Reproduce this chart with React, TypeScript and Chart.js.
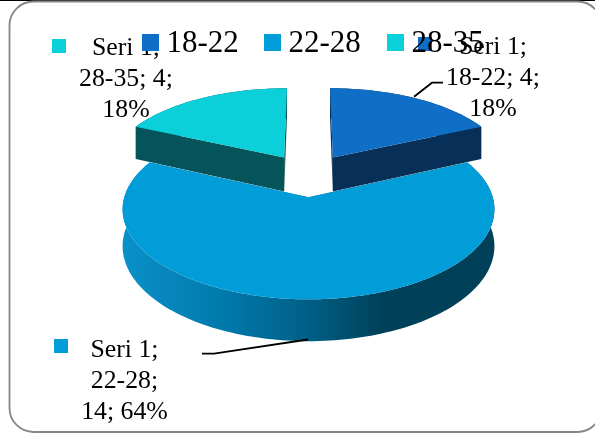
import React, { useEffect, useRef } from "react";
import { Chart, registerables } from "chart.js";

Chart.register(...registerables);

const seriesName = "Seri 1";
const categories = ["18-22", "22-28", "28-35"];
const values = [4, 14, 4];
const percents = ["18%", "64%", "18%"];
const topColors = ["#0F6FC6", "#009DD9", "#0BD0D9"];
const sideColors = ["#072F57", "#0A8FC6", "#04545A"];

const SERIF = '"Liberation Serif", "Times New Roman", serif';
const W = 595;
const H = 435;

// projection constants of the tilted pie
const KR = 82.5; // vertical px per unit radius
const PERSP = 0.13;
const EXPLODE = 0.26;
const DEPTH = 35;

type Pt = [number, number];

function project(arc: any, u: number, v: number, drop: number): Pt {
  const s = 1 / (1 + PERSP * v);
  return [arc.x + u * arc.outerRadius * s, arc.y - v * KR * s + drop * s];
}

function slicePoints(arc: any, drop: number) {
  const a0 = arc.startAngle + Math.PI / 2;
  const a1 = arc.endAngle + Math.PI / 2;
  const mid = (a0 + a1) / 2;
  const ou = EXPLODE * Math.sin(mid);
  const ov = EXPLODE * Math.cos(mid);
  const steps = Math.max(12, Math.ceil((a1 - a0) * 40));
  const rim: Pt[] = [];
  for (let i = 0; i <= steps; i++) {
    const t = a0 + ((a1 - a0) * i) / steps;
    rim.push(project(arc, ou + Math.sin(t), ov + Math.cos(t), drop));
  }
  return { apex: project(arc, ou, ov, drop), rim };
}

function fillPoly(ctx: CanvasRenderingContext2D, pts: Pt[], fill: any) {
  ctx.beginPath();
  pts.forEach((p, i) => (i ? ctx.lineTo(p[0], p[1]) : ctx.moveTo(p[0], p[1])));
  ctx.closePath();
  ctx.fillStyle = fill;
  ctx.fill();
}

function drawSlice(ctx: CanvasRenderingContext2D, arc: any, index: number) {
  const top = slicePoints(arc, 0);
  const low = slicePoints(arc, DEPTH);
  let side: any = sideColors[index];
  if (index === 1) {
    const g = ctx.createLinearGradient(125, 0, 430, 0);
    g.addColorStop(0, "#0A90C8");
    g.addColorStop(0.35, "#0077A8");
    g.addColorStop(0.6, "#005F86");
    g.addColorStop(0.85, "#004058");
    g.addColorStop(1, "#004058");
    side = g;
  }
  const n = top.rim.length - 1;
  fillPoly(ctx, [...top.rim, ...low.rim.slice().reverse()], side);
  fillPoly(ctx, [top.apex, top.rim[0], low.rim[0], low.apex], side);
  fillPoly(ctx, [top.apex, top.rim[n], low.rim[n], low.apex], side);
  fillPoly(ctx, [top.apex, ...top.rim], arc.options.backgroundColor);
}

const frame3d = {
  id: "frame3d",
  beforeDraw(chart: any) {
    const ctx = chart.ctx;
    ctx.save();
    ctx.fillStyle = "#000000";
    ctx.fillRect(0, 0, W, 1);
    ctx.beginPath();
    ctx.roundRect(9.5, 1.5, 592, 430.5, 24);
    ctx.strokeStyle = "#868686";
    ctx.lineWidth = 1.8;
    ctx.stroke();
    ctx.restore();
  },
};

const pie3d = {
  id: "pie3d",
  beforeDatasetsDraw(chart: any) {
    const ctx = chart.ctx;
    const arcs = chart.getDatasetMeta(0).data;
    ctx.save();
    [2, 0, 1].forEach((i) => drawSlice(ctx, arcs[i], i));
    ctx.restore();
    return false;
  },
};

function drawLine(ctx: CanvasRenderingContext2D, pts: Pt[]) {
  ctx.beginPath();
  pts.forEach((p, i) => (i ? ctx.lineTo(p[0], p[1]) : ctx.moveTo(p[0], p[1])));
  ctx.strokeStyle = "#000000";
  ctx.lineWidth = 1.8;
  ctx.stroke();
}

const labelLayout = [
  { cx: 493, y: 54, key: [418, 37] },
  { cx: 124.5, y: 356.5, key: [54, 339] },
  { cx: 126, y: 55, key: [52, 39] },
];
const legendBoxX = [142, 264, 387];

const annotations = {
  id: "annotations",
  afterDraw(chart: any) {
    const ctx = chart.ctx;
    ctx.save();
    ctx.textBaseline = "alphabetic";

    // data-label keys and leader lines
    labelLayout.forEach((l, i) => {
      ctx.fillStyle = topColors[i];
      ctx.fillRect(l.key[0], l.key[1], 14, 14);
    });
    drawLine(ctx, [[414, 96.7], [432, 82.7], [443, 82.7]]);
    drawLine(ctx, [[202, 353.7], [214, 353.7], [308, 339.5]]);

    // data labels
    ctx.font = `25.8px ${SERIF}`;
    ctx.textAlign = "center";
    ctx.fillStyle = "#000000";
    const lines = [
      [`${seriesName};`, `${categories[0]}; ${values[0]};`, percents[0]],
      [`${seriesName};`, `${categories[1]};`, `${values[1]}; ${percents[1]}`],
      [`${seriesName};`, `${categories[2]}; ${values[2]};`, percents[2]],
    ];
    lines.forEach((ls, i) => {
      const l = labelLayout[i];
      ls.forEach((t, j) => ctx.fillText(t, l.cx, l.y + j * 31));
    });

    // legend text & boxes
    ctx.font = `31px ${SERIF}`;
    ctx.textAlign = "left";
    categories.forEach((c, i) => {
      ctx.fillStyle = topColors[i];
      ctx.fillRect(legendBoxX[i], 34, 17, 17);
      ctx.fillStyle = "#000000";
      ctx.fillText(c, legendBoxX[i] + 24.5, 52);
    });
    ctx.restore();
  },
};

export default function App() {
  const ref = useRef<HTMLCanvasElement | null>(null);
  useEffect(() => {
    document.body.style.margin = "0";
    document.body.style.background = "#ffffff";
    const chart = new Chart(ref.current as HTMLCanvasElement, {
      type: "pie",
      data: {
        labels: categories,
        datasets: [
          {
            label: seriesName,
            data: values,
            backgroundColor: topColors,
            borderWidth: 0,
          },
        ],
      },
      options: {
        animation: false,
        responsive: false,
        radius: 178,
        layout: { padding: { left: 22, right: 0, top: 0, bottom: 85 } },
        plugins: {
          legend: { display: false },
          tooltip: { enabled: false },
        },
      } as any,
      plugins: [frame3d, pie3d, annotations],
    });
    return () => chart.destroy();
  }, []);
  return (
    <canvas
      ref={ref}
      width={W}
      height={H}
      style={{ display: "block", width: W, height: H }}
    />
  );
}
